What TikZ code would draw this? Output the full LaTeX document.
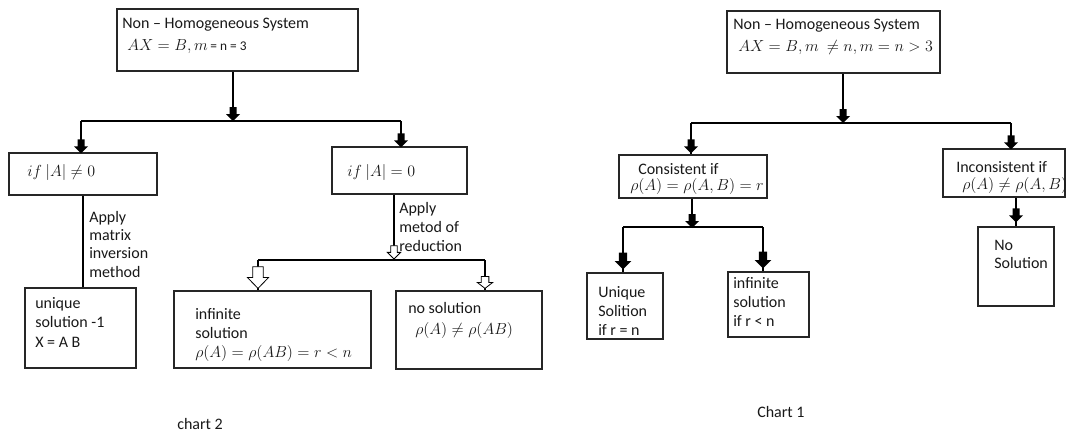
\documentclass[tikz,border=0pt]{standalone}
\usepackage{fontspec}
\setmainfont{Carlito}
\usetikzlibrary{fit,calc}
\begin{document}
\begin{tikzpicture}[x=0.75pt,y=-0.75pt,
  box/.style={draw=black!85,line width=0.9pt,inner sep=0pt,fill=none},
  txt/.style={anchor=base west,inner sep=0pt,align=left,font=\fontsize{12}{14}\selectfont,text=black!90},
  lsk/.style={font=\fontsize{12}{#1}\selectfont},
  con/.style={draw=black,line width=0.8pt},
  fa/.pic={\fill[black] (-3.5,-14)--(3.5,-14)--(3.5,-7)--(7,-7)--(0,0)--(-7,-7)--(-3.5,-7)--cycle;},
  oa/.pic={\filldraw[fill=white,draw=black,line width=0.6pt] (-3.5,-14)--(3.5,-14)--(3.5,-7)--(7,-7)--(0,0)--(-7,-7)--(-3.5,-7)--cycle;}
]
\useasboundingbox (0,0) rectangle (1066,433);
\fill[white] (0,0) rectangle (1066,433);

% ---------------- left chart (chart 2) ----------------
\node[box,fit={(117,9) (358,71)}] (L0) {};
\node[box,fit={(9,153) (157,195)}] (L1) {};
\node[box,fit={(332,147) (467,194)}] (L2) {};
\node[box,fit={(25,288) (136,368)}] (L3) {};
\node[box,fit={(174,291) (371,368)}] (L4) {};
\node[box,fit={(396,291) (542,369)}] (L5) {};

\node[txt] (t0a) at (122,28) {Non -- Homogeneous System};
\node[txt] (t0b) at (127,50) {$AX=B,m$\,{\fontsize{10}{12}\selectfont= n = 3}};
\node[txt] (t1) at (27,176) {$if\ |A|\neq 0$};
\node[txt] (t2) at (347,176) {$if\ |A|=0$};
\node[txt,lsk=13.75pt] (t3) at (89,277) {Apply\\matrix\\inversion\\method};
\node[txt,lsk=14.25pt] (t4) at (399,251) {Apply\\metod of\\reduction};
\node[txt,lsk=14.6pt] (t5) at (35,347) {unique\\solution -1\\X = A B};
\node[txt,lsk=13.9pt] (t6) at (195,357) {infinite\\solution\\$\rho(A)=\rho(AB)=r<n$};
\node[txt] (t7) at (408,313) {no solution};
\node[txt] (t7b) at (415,334) {$\rho(A)\neq\rho(AB)$};
\node[txt] (c2) at (177,429) {chart 2};

\coordinate (j0) at (233,121);
\coordinate (jL) at (81,121);
\coordinate (jR) at (401,121);
\draw[con] (L0.south -| j0) -- (j0);
\draw[con] (jL) -- (jR);
\draw[con] (jL) -- (jL |- L1.north);
\draw[con] (jR) -- (jR |- L2.north);
\pic at (j0) {fa};
\pic at ($(jL |- L1.north)+(0,1)$) {fa};
\pic at ($(jR |- L2.north)+(0,1)$) {fa};
\draw[con] (L1.south) -- (L1.south |- L3.north);

\coordinate (j1) at (394,260);
\coordinate (j1L) at (258,260);
\coordinate (j1R) at (485,260);
\draw[con] (L2.south -| j1) -- (j1);
\draw[con] (j1L) -- (j1R);
\draw[con] (j1L) -- (j1L |- L4.north);
\draw[con] (j1R) -- (j1R |- L5.north);
\pic[scale=0.95] at ($(j1)+(0,-1)$) {oa};
\pic[xscale=1.5,yscale=1.55] at ($(j1L |- L4.north)+(0,-2)$) {oa};
\pic[xscale=1.1,yscale=0.85] at ($(j1R |- L5.north)+(0,-2)$) {oa};

% ---------------- right chart (Chart 1) ----------------
\node[box,fit={(727,11) (940,73)}] (R0) {};
\node[box,fit={(619,155) (767,198)}] (R1) {};
\node[box,fit={(943,149) (1065,197)}] (R2) {};
\node[box,fit={(587,273) (663,339)}] (R3) {};
\node[box,fit={(728,272) (809,337)}] (R4) {};
\node[box,fit={(978,227) (1054,306)}] (R5) {};

\node[txt] (s0a) at (733,29) {Non -- Homogeneous System};
\node[txt] (s0b) at (738,51) {$AX=B,m\ \neq n,m=n>3$};
\node[txt] (s1a) at (638,174) {Consistent if};
\node[txt] (s1b) at (630,190) {$\rho(A)=\rho(A,B)=r$};
\node[txt] (s2a) at (956,172) {Inconsistent if};
\node[txt] (s2b) at (962,189) {$\rho(A)\neq\rho(A,B)$};
\node[txt,lsk=13.9pt] (s3) at (598,335) {Unique\\Solition\\if r = n};
\node[txt,lsk=14.25pt] (s4) at (733,326) {infinite\\solution\\if r < n};
\node[txt,lsk=13.5pt] (s5) at (994,268) {No\\Solution};
\node[txt] (c1) at (757,417) {Chart 1};

\coordinate (k0) at (843,123);
\coordinate (kL) at (691,123);
\coordinate (kR) at (1011,123);
\draw[con] (R0.south -| k0) -- (k0);
\draw[con] (kL) -- (kR);
\draw[con] (kL) -- (kL |- R1.north);
\draw[con] (kR) -- (kR |- R2.north);
\pic at (k0) {fa};
\pic at ($(kL |- R1.north)+(0,-1)$) {fa};
\pic at ($(kR |- R2.north)+(0,1)$) {fa};

\coordinate (k1) at (692,227);
\coordinate (k1L) at (623,227);
\coordinate (k1R) at (763,227);
\draw[con] (R1.south -| k1) -- (k1);
\draw[con] (k1L) -- (k1R);
\draw[con] (k1L) -- (k1L |- R3.north);
\draw[con] (k1R) -- (k1R |- R4.north);
\pic at ($(k1)+(0,1)$) {fa};
\pic[scale=1.2] at ($(k1L |- R3.north)+(0,-3)$) {fa};
\pic[scale=1.2] at ($(k1R |- R4.north)+(0,-3)$) {fa};

\draw[con] (R5.north |- R2.south) -- (R5.north);
\pic at ($(R5.north)+(0,-4)$) {fa};
\end{tikzpicture}
\end{document}
